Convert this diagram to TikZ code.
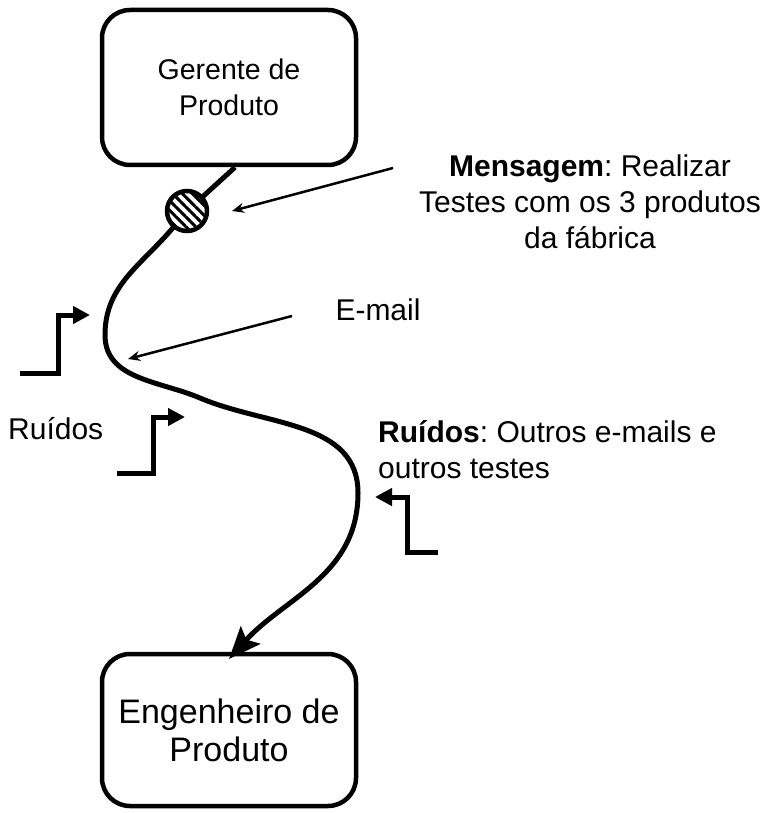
\documentclass[tikz,border=0pt]{standalone}
\usepackage{fontspec}
\setmainfont{Liberation Sans}
\usetikzlibrary{arrows.meta,patterns.meta}

\begin{document}
\frenchspacing
\begin{tikzpicture}[x=1pt,y=-1pt,
    caixa/.style={draw,line width=4.5pt,rounded corners=28pt,minimum width=254pt,align=center,inner sep=0pt},
    fio/.style={line width=5pt},
    seta/.style={line width=2.5pt,-{Stealth[length=12pt,width=10pt]}},
    degrau/.style={line width=5pt,-{Triangle[length=17pt,width=17pt]}},
    txt/.style={font=\fontsize{30}{36}\selectfont,inner sep=0pt}]
	  \useasboundingbox (0,0) rectangle (767,813);
	  \node[caixa,minimum height=155pt,font=\fontsize{28.5}{36}\selectfont] (ger) at (229,87.5) {Gerente de\\Produto};
	  \node[caixa,minimum height=152pt,font=\fontsize{34}{38}\selectfont] (eng) at (229,730) {Engenheiro de\\Produto};
	  \node[circle,draw,line width=4.5pt,minimum size=40pt,inner sep=0pt,pattern={Lines[angle=-45,distance=7pt,line width=3pt]}] (msg) at (187,211) {};
	  \coordinate (fim) at (229,659);
	  \draw[fio] ([xshift=6pt]ger.south) -- (msg);
	  \draw[fio,-{Stealth[length=32pt,width=26pt,inset=6pt]}] (msg.230) to[out=230,in=90] (105,335) to[out=-90,in=157] (200,398) to[out=-23,in=90] (358,493) to[out=-90,in=48] (fim);
	  \node[txt,anchor=north,align=center] (mtxt) at (590,155) {\textbf{Mensagem}: Realizar\\Testes com os 3 produtos\\da fábrica};
	  \node[txt,anchor=base] (email) at (378,320) {E-mail};
	  \node[txt,anchor=base west] (ruido) at (8,439) {Ruídos};
	  \node[txt,anchor=north west,align=left] (rtxt) at (378,420) {\textbf{Ruídos}: Outros e-mails e\\outros testes};
	  \coordinate (m1) at (393,168);
	  \coordinate (m2) at (232,211);
	  \draw[seta] (m1) -- (m2);
	  \coordinate (e1) at (292,316);
	  \coordinate (e2) at (128,359);
	  \draw[seta] (e1) -- (e2);
	  \draw[degrau] (20,373) -- (58,373) -- (58,315) -- (90,315);
	  \draw[degrau] (117,473) -- (153,473) -- (153,417) -- (185,417);
	  \draw[degrau] (438,552) -- (407,552) -- (407,497) -- (375,497);
	\end{tikzpicture}
\end{document}
